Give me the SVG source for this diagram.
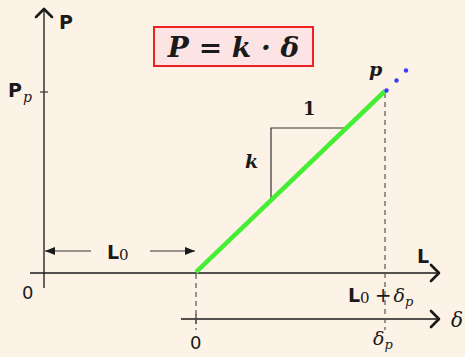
<svg xmlns="http://www.w3.org/2000/svg" width="465" height="357" viewBox="0 0 465 357">
<defs>
<style>
.ax{stroke:#1a1a1a;stroke-width:1.3;fill:none}
.chev{stroke:#1a1a1a;stroke-width:2.6;fill:none;stroke-linecap:round;stroke-linejoin:round}
.dash{stroke:#555;stroke-width:1.2;stroke-dasharray:5,4;fill:none}
.thin{stroke:#333;stroke-width:1.2;fill:none}
.sans{font-family:"DejaVu Sans","Liberation Sans",sans-serif;fill:#1a1a1a}
.serif{font-family:"DejaVu Serif","Liberation Serif",serif;fill:#1a1a1a}
.mi{font-family:"DejaVu Serif","Liberation Serif",serif;font-style:italic;fill:#1a1a1a}
</style>
<marker id="ah" viewBox="0 0 10 8" refX="10" refY="4" markerWidth="10" markerHeight="8" markerUnits="userSpaceOnUse" orient="auto">
<path d="M0,0 L10,4 L0,8 z" fill="#1a1a1a"/>
</marker>
</defs>
<rect width="465" height="357" fill="#fdf2e6"/>
<g id="connectors">
<line class="ax" x1="44" y1="288" x2="44" y2="10" stroke="#555"/>
<path class="chev" d="M36,17 L44,9 L52,17"/>
<line class="thin" x1="40" y1="92" x2="48" y2="92"/>
<line class="ax" x1="30" y1="273" x2="438" y2="273"/>
<path class="chev" d="M431,265 L439,273 L431,281"/>
<line class="ax" x1="181" y1="319" x2="438" y2="319" stroke="#444"/>
<path class="chev" d="M431,311 L439,319 L431,327"/>
<line class="thin" x1="196" y1="314" x2="196" y2="324"/>
<line class="dash" x1="196" y1="274" x2="196" y2="330"/>
<line class="dash" x1="385" y1="93" x2="385" y2="330"/>
<line class="thin" x1="91" y1="251" x2="45" y2="251" marker-end="url(#ah)"/>
<line class="thin" x1="150" y1="251" x2="195" y2="251" marker-end="url(#ah)"/>
<path class="thin" d="M271,200 L271,128 L347,128"/>
<line x1="196" y1="272" x2="385" y2="91" stroke="#44ee33" stroke-width="4.5" stroke-linecap="butt"/>
</g>
<g id="dots" fill="#3b3bff">
<circle cx="386.5" cy="90.5" r="2.2"/>
<circle cx="396.5" cy="80.5" r="2.2"/>
<circle cx="406" cy="70.5" r="2.2"/>
</g>
<g id="formula">
<rect x="154" y="27" width="159" height="39" fill="#fde4e4" stroke="#ee2222" stroke-width="2"/>
<text x="233.5" y="57" text-anchor="middle" class="mi" font-size="28" font-weight="bold">P = k · δ</text>
</g>
<g id="labels">
<text x="59" y="29" class="sans" font-size="19" font-weight="bold">P</text>
<text x="8" y="97" class="sans" font-size="19" font-weight="bold">P<tspan class="mi" font-size="14" font-weight="normal" dx="1" dy="5">p</tspan></text>
<text x="417" y="263" class="sans" font-size="19" font-weight="bold">L</text>
<text x="22" y="299" class="sans" font-size="18">0</text>
<text x="190" y="349" class="sans" font-size="18">0</text>
<text x="451" y="327" class="mi" font-size="20">δ</text>
<text x="373" y="345" class="mi" font-size="19">δ<tspan font-size="13" dy="4">p</tspan></text>
<text x="348" y="302" class="sans" font-size="19" font-weight="bold">L<tspan class="serif" font-size="15" font-weight="normal" dy="1">0</tspan><tspan class="serif" font-size="20" font-weight="normal" dy="-1" dx="5">+</tspan><tspan class="mi" font-weight="normal" font-size="19" dx="2">δ</tspan><tspan class="mi" font-weight="normal" font-size="13" dy="4">p</tspan></text>
<text x="107" y="259" class="sans" font-size="19" font-weight="bold">L<tspan class="serif" font-size="15" font-weight="normal" dy="1">0</tspan></text>
<text x="369" y="76" class="mi" font-size="19" font-weight="bold">p</text>
<text x="303" y="115" class="serif" font-size="18" font-weight="bold">1</text>
<text x="245" y="168" class="mi" font-size="19" font-weight="bold">k</text>
</g>
</svg>
